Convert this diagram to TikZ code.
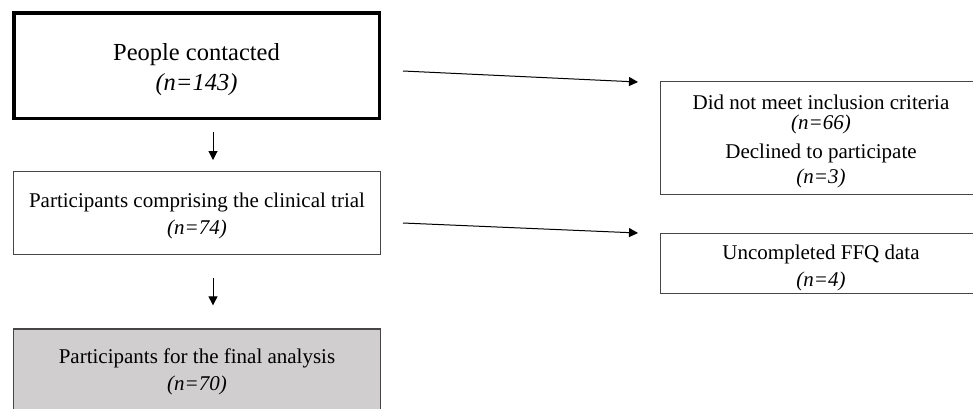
\documentclass[tikz,border=0pt]{standalone}
\usepackage{fontspec}
\setmainfont{Liberation Serif}
\usetikzlibrary{arrows.meta}
\definecolor{boxline}{RGB}{70,70,70}
\definecolor{finalfill}{RGB}{208,206,206}
\begin{document}
\begin{tikzpicture}[x=1pt,y=-1pt,
  box/.style={draw=boxline,line width=1.3pt,rectangle,inner sep=0pt},
  mainbox/.style={draw=black,line width=3.5pt,rectangle,inner sep=0pt},
  txt/.style={inner sep=0pt,align=center,font=\fontsize{21}{27}\selectfont},
  maintxt/.style={inner sep=0pt,align=center,font=\fontsize{24.5}{30}\selectfont},
  arr/.style={draw=black,line width=1pt,-{Triangle[length=9pt,width=9pt]}}]
\clip (0,0) rectangle (973,408);
\fill[white] (0,0) rectangle (973,408);
\node[mainbox,minimum width=365.5pt,minimum height=105.5pt] (b1) at (196.5,65.5) {};
\node[box,minimum width=366.7pt,minimum height=82.7pt] (b2) at (197,213) {};
\node[box,fill=finalfill,minimum width=366.7pt,minimum height=82pt] (b3) at (197,370) {};
\node[box,minimum width=320.7pt,minimum height=112.7pt] (b4) at (821,138) {};
\node[box,minimum width=320.7pt,minimum height=59.7pt] (b5) at (821,263.5) {};
\node[maintxt] (t1) at ([yshift=-4.5pt]b1.center) {People contacted\\\textit{(n=143)}};
\node[txt] (t2) at ([yshift=-2.5pt]b2.center) {Participants comprising the clinical trial\\\textit{(n=74)}};
\node[txt] (t3) at ([yshift=-2pt]b3.center) {Participants for the final analysis\\\textit{(n=70)}};
\node[txt] (t4) at ([yshift=-3.5pt]b4.center) {Did not meet inclusion criteria\\[-7pt]\textit{(n=66)}\\[2pt]Declined to participate\\[-2pt]\textit{(n=3)}};
\node[txt] (t5) at ([yshift=-4pt]b5.center) {Uncompleted FFQ data\\\textit{(n=4)}};
\draw[arr] ([xshift=16.5pt,yshift=-12pt]b1.south) -- ([xshift=16pt,yshift=11pt]b2.north);
\draw[arr] ([xshift=16pt,yshift=-23pt]b2.south) -- ([xshift=16pt,yshift=23pt]b3.north);
\draw[arr] ([xshift=22pt,yshift=-5.5pt]b1.east) -- ([xshift=-22pt,yshift=56pt]b4.west);
\draw[arr] ([xshift=22pt,yshift=-10pt]b2.east) -- ([xshift=-22pt,yshift=30.5pt]b5.west);
\end{tikzpicture}
\end{document}
